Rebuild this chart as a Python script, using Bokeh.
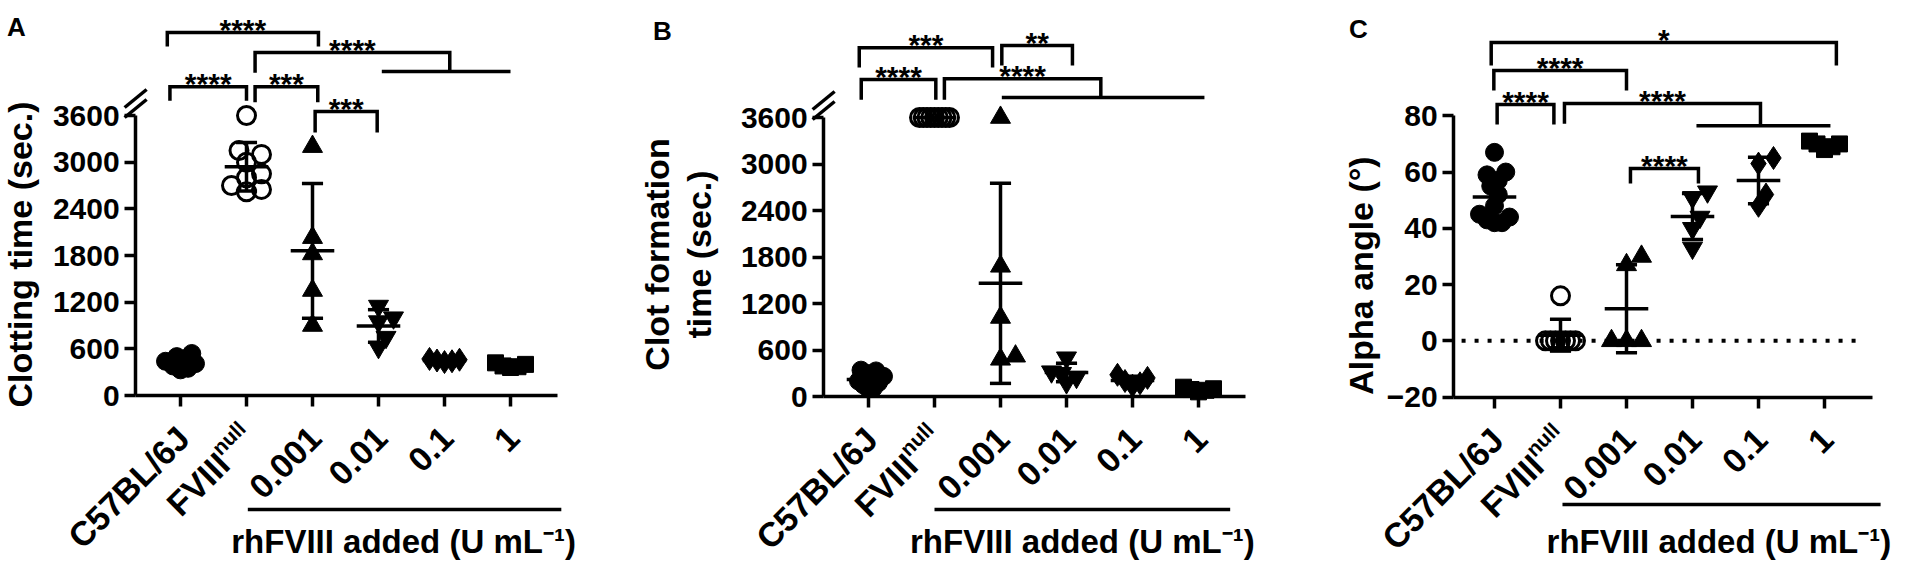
import math
from bokeh.plotting import figure
from bokeh.layouts import row
from bokeh.models import FixedTicker
from bokeh.core.properties import value
from bokeh.embed import file_html
from bokeh.resources import INLINE

FONT = "Liberation Sans"
INK = "#000000"

# ---------------- data ----------------
categories = ["C57BL/6J", "FVIII", "0.001", "0.01", "0.1", "1"]
null_sup = "null"
group_title = "rhFVIII added (U mL\u207b\u00b9)"
markers = ["circle", "circle", "triangle", "inverted_triangle", "diamond", "square"]
hollow = [False, True, False, False, False, False]

# Panel A : clotting time (sec.)
a_c57 = [540, 500, 470, 440, 410, 380, 350, 330]
a_null = [3600, 3150, 3100, 3000, 2850, 2800, 2700, 2650, 2620]
a_u0001 = [3200, 2030, 1820, 1350, 900]
a_u001 = [1150, 1000, 950, 750, 620]
a_u01 = [470, 460, 450, 440, 430]
a_u1 = [420, 400, 380, 370, 360]
a_yticks = [0, 600, 1200, 1800, 2400, 3000, 3600]
# (left x, right x, bar level, left leg end, right leg end, stars)
a_brackets = [
    (-0.20, 2.09, 4667, 4487, 4487, "****"),
    (1.13, 4.08, 4410, 4150, 4165, "****"),
    (-0.16, 1.00, 3970, 3790, 3790, "****"),
    (1.13, 2.08, 3970, 3770, 3770, "***"),
    (2.04, 2.98, 3650, 3380, 3380, "***"),
]
a_joins = [(3.05, 5.00, 4165)]

# Panel B : clot formation time (sec.)
b_c57 = [340, 330, 300, 260, 230, 200, 180, 150, 110, 100]
b_null = [3600, 3600, 3600, 3600, 3600, 3600, 3600, 3600, 3600]
b_u0001 = [3600, 1680, 1020, 480, 520]
b_u001 = [500, 320, 300, 250, 180]
b_u01 = [280, 240, 200, 170, 140]
b_u1 = [120, 100, 90, 80, 60]
b_yticks = [0, 600, 1200, 1800, 2400, 3000, 3600]
b_brackets = [
    (-0.14, 1.88, 4500, 4245, 4245, "***"),
    (2.02, 3.09, 4530, 4270, 4270, "**"),
    (-0.11, 1.02, 4090, 3830, 3830, "****"),
    (1.15, 3.52, 4100, 3830, 3858, "****"),
]
b_joins = [(2.02, 5.09, 3858)]

# Panel C : alpha angle (degrees)
c_c57 = [67, 60, 59, 57, 55, 52, 48, 45, 44, 43, 42, 42]
c_null = [16, 0, 0, 0, 0, 0, 0, 0]
c_u0001 = [30, 27, 0, 0, 0]
c_u001 = [53, 51, 44, 40, 33]
c_u01 = [65, 63, 52, 48]
c_u1 = [71, 70, 70, 69, 68]
c_yticks = [-20, 0, 20, 40, 60, 80]
c_brackets = [
    (-0.05, 5.18, 106.1, 97.9, 97.9, "*"),
    (-0.01, 2.00, 96.1, 89.0, 89.0, "****"),
    (0.04, 0.90, 84.0, 76.9, 76.9, "****"),
    (1.06, 4.03, 84.4, 77.2, 76.5, "****"),
    (2.06, 3.09, 61.3, 55.9, 55.9, "****"),
]
c_joins = [(3.06, 5.09, 76.5)]

# ---------------- layout (page pixels) ----------------
H = 561
DX = 66.0
LA = dict(left=8, width=612, cat0=188, zero_py=403.0, ppu=280 / 3600, axis_x=-0.68, axis_end=5.71,
          y_lo=0, y_hi=3600, letter=("A", 24, 34), ylabels=[("Clotting time (sec.)", 27, 262)],
          gline=(1.02, 5.77, 517), gtitle=(3.38, 549), brk=True)
LB = dict(left=620, width=670, cat0=876, zero_py=404.0, ppu=279 / 3600, axis_x=-0.68, axis_end=5.71,
          y_lo=0, y_hi=3600, letter=("B", 670, 38),
          ylabels=[("Clot formation", 664, 262), ("time (sec.)", 706, 262)],
          gline=(1.00, 5.48, 517), gtitle=(3.24, 549), brk=True)
LC = dict(left=1290, width=622, cat0=1502, zero_py=348.3, ppu=2.8125, axis_x=-0.62, axis_end=5.73,
          y_lo=-20, y_hi=80, letter=("C", 1366, 36), ylabels=[("Alpha angle (\u00b0)", 1368, 283)],
          gline=(1.03, 5.85, 512), gtitle=(3.40, 549), brk=False, zero_dots=True)

MARKER_SIZE = {"circle": 18, "triangle": 20, "inverted_triangle": 20, "diamond": 23, "square": 16}
TICK_FONT = "34px"


def swarm_offsets(vals, ppu, diam=15.0, limit_px=15.0):
    ys = [v * ppu for v in vals]
    order = sorted(range(len(vals)), key=lambda i: ys[i])
    offs = [0.0] * len(vals)
    placed = []
    step = diam * 0.55
    for i in order:
        k = 0
        chosen = None
        while chosen is None:
            cands = [0.0] if k == 0 else [k * step, -k * step]
            for c in cands:
                if all((c - px) ** 2 + (ys[i] - py) ** 2 >= (0.8 * diam) ** 2 for px, py in placed):
                    chosen = c
                    break
            k += 1
        offs[i] = chosen
        placed.append((chosen, ys[i]))
    m = max(abs(o) for o in offs)
    if m > limit_px:
        offs = [o * limit_px / m for o in offs]
    return [o / DX for o in offs]


def make_panel(L, groups, yticks, brackets, joins):
    cat0, ppu, zero_py, left, W = L["cat0"], L["ppu"], L["zero_py"], L["left"], L["width"]
    cx = lambda page_x: (page_x - cat0) / DX
    cy = lambda page_y: (zero_py - page_y) / ppu
    ux = lambda px: px / DX
    uy = lambda px: px / ppu

    p = figure(width=W, height=H, x_range=(cx(left), cx(left + W)), y_range=(cy(8 + H), cy(8)),
               toolbar_location=None, output_backend="svg", title=None,
               min_border=0, min_border_left=0, min_border_right=0, min_border_top=0, min_border_bottom=0)
    p.outline_line_color = None
    p.background_fill_color = "white"
    p.border_fill_color = "white"
    p.xgrid.visible = False
    p.ygrid.visible = False

    xa, ya = p.xaxis[0], p.yaxis[0]
    xa.fixed_location = L["y_lo"]
    ya.fixed_location = L["axis_x"]
    xa.bounds = (L["axis_x"], L["axis_end"])
    ya.bounds = (L["y_lo"], L["y_hi"])
    xa.ticker = FixedTicker(ticks=list(range(len(categories))))
    ya.ticker = FixedTicker(ticks=yticks)
    xa.major_label_overrides = {i: "" for i in range(len(categories))}
    for ax in (xa, ya):
        ax.axis_line_width = 3.5
        ax.axis_line_color = INK
        ax.major_tick_line_width = 3.5
        ax.major_tick_line_color = INK
        ax.major_tick_out = 11
        ax.major_tick_in = 0
        ax.minor_tick_line_color = None
        ax.major_label_text_font = FONT
        ax.major_label_text_font_style = "bold"
        ax.major_label_text_font_size = "30px"
        ax.major_label_text_color = INK
    ya.major_label_standoff = 5

    # zero reference line (panel C)
    if L.get("zero_dots"):
        p.segment(x0=[L["axis_x"] + ux(8)], y0=[0], x1=[L["axis_end"] - ux(12)], y1=[0],
                  line_color=INK, line_width=4, line_dash="4 9")

    # points
    for i, vals in enumerate(groups):
        offs = swarm_offsets(vals, ppu)
        xs = [i + o for o in offs]
        size = MARKER_SIZE[markers[i]]
        if hollow[i]:
            p.scatter(xs, vals, marker=markers[i], size=size, fill_color=None,
                      line_color=INK, line_width=3)
        else:
            p.scatter(xs, vals, marker=markers[i], size=size, fill_color=INK,
                      line_color=INK, line_width=1)

    # mean +/- SD
    for i, vals in enumerate(groups):
        n = len(vals)
        mean = sum(vals) / n
        sd = math.sqrt(sum((v - mean) ** 2 for v in vals) / (n - 1))
        p.segment(x0=[i - 0.33], y0=[mean], x1=[i + 0.33], y1=[mean], line_color=INK, line_width=3.5)
        if sd > 0:
            p.segment(x0=[i], y0=[mean - sd], x1=[i], y1=[mean + sd], line_color=INK, line_width=3.5)
            p.segment(x0=[i - 0.16, i - 0.16], y0=[mean - sd, mean + sd],
                      x1=[i + 0.16, i + 0.16], y1=[mean - sd, mean + sd], line_color=INK, line_width=3.5)

    # significance brackets
    xs_b, ys_b = [], []
    sx, sy, st = [], [], []
    for (x1, x2, bar, l1, l2, stars) in brackets:
        xs_b.append([x1, x1, x2, x2])
        ys_b.append([l1, bar, bar, l2])
        sx.append((x1 + x2) / 2)
        sy.append(bar + uy(3))
        st.append(stars)
    for (g1, g2, gy) in joins:
        xs_b.append([g1, g2])
        ys_b.append([gy, gy])
    p.multi_line(xs_b, ys_b, line_color=INK, line_width=3.5, line_join="miter")
    p.text(sx, sy, text=st, text_align="center", text_baseline="alphabetic",
           text_font=value(FONT), text_font_style="bold", text_font_size="30px", text_color=INK)

    # axis break marks
    if L.get("brk"):
        bx, by = L["axis_x"], L["y_hi"] + uy(12)
        p.segment(x0=[bx - ux(11), bx - ux(11)], y0=[by - uy(14), by - uy(4)],
                  x1=[bx + ux(11), bx + ux(11)], y1=[by + uy(4), by + uy(14)],
                  line_color=INK, line_width=3.5)

    # category tick labels (rotated 45 degrees, ending at the tick)
    ylo = L["y_lo"]
    a = math.radians(45)
    ca, sa = math.cos(a), math.sin(a)
    for i, name in enumerate(categories):
        tx, ty = i + ux(3), ylo - uy(37)
        if i == 1:
            sup_w = 37
            # superscript "null": raised perpendicular to the text direction
            p.text([tx - ux(sa * 11)], [ty + uy(ca * 11)], text=[null_sup], angle=a,
                   text_align="right", text_baseline="middle", text_font=value(FONT),
                   text_font_style="bold", text_font_size="21px", text_color=INK)
            p.text([tx - ux(ca * sup_w)], [ty - uy(sa * sup_w)], text=[name], angle=a,
                   text_align="right", text_baseline="middle", text_font=value(FONT),
                   text_font_style="bold", text_font_size=TICK_FONT, text_color=INK)
        else:
            p.text([tx], [ty], text=[name], angle=a, text_align="right", text_baseline="middle",
                   text_font=value(FONT), text_font_style="bold", text_font_size=TICK_FONT, text_color=INK)

    # group line and title
    g1, g2, gpy = L["gline"]
    p.segment(x0=[g1], y0=[cy(gpy)], x1=[g2], y1=[cy(gpy)], line_color=INK, line_width=3.5)
    tcat, tpy = L["gtitle"]
    p.text([tcat], [cy(tpy)], text=[group_title], text_align="center", text_baseline="middle",
           text_font=value(FONT), text_font_style="bold", text_font_size="33px", text_color=INK)

    # y-axis title(s)
    for (txt, px_, py_) in L["ylabels"]:
        p.text([cx(px_)], [cy(py_)], text=[txt], angle=math.pi / 2, text_align="center",
               text_baseline="middle", text_font=value(FONT), text_font_style="bold",
               text_font_size="34px", text_color=INK)

    # panel letter
    let, lx, ly = L["letter"]
    p.text([cx(lx)], [cy(ly)], text=[let], text_align="center", text_baseline="middle",
           text_font=value(FONT), text_font_style="bold", text_font_size="26px", text_color=INK)
    return p


pA = make_panel(LA, [a_c57, a_null, a_u0001, a_u001, a_u01, a_u1], a_yticks, a_brackets, a_joins)
pB = make_panel(LB, [b_c57, b_null, b_u0001, b_u001, b_u01, b_u1], b_yticks, b_brackets, b_joins)
pC = make_panel(LC, [c_c57, c_null, c_u0001, c_u001, c_u01, c_u1], c_yticks, c_brackets, c_joins)

layout = row(pA, pB, pC)
open("out.html", "w").write(file_html(layout, INLINE))
